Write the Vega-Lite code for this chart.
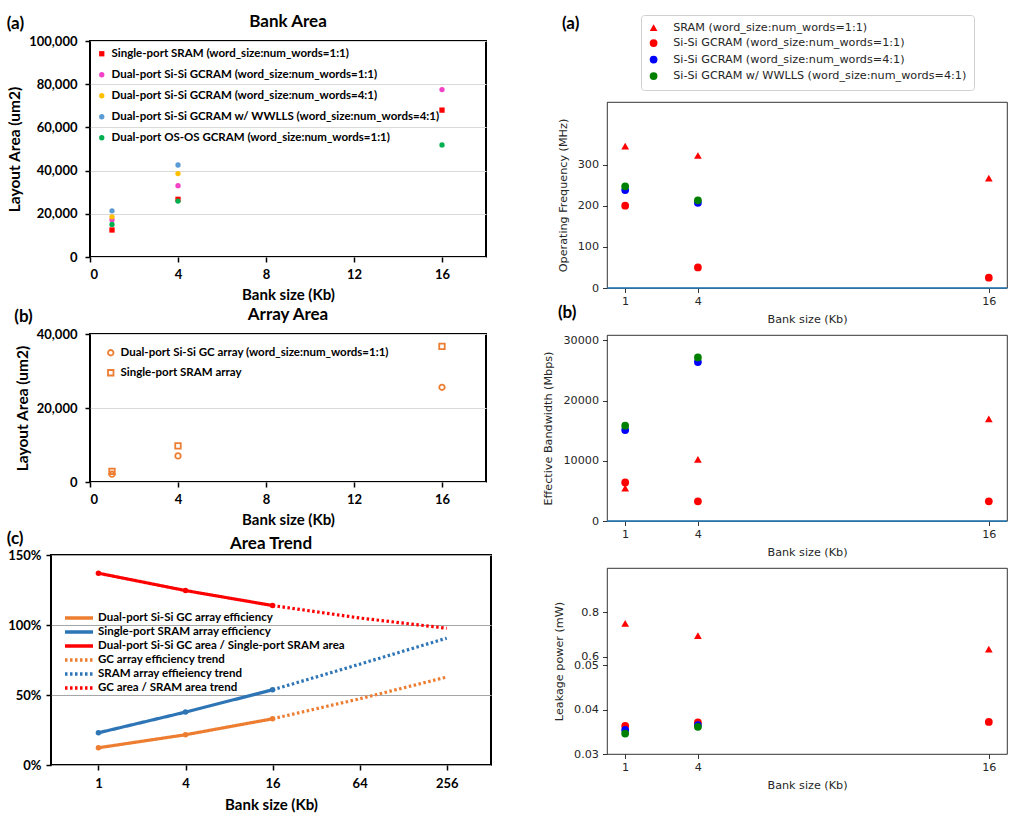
{
  "$schema": "https://vega.github.io/schema/vega-lite/v6.json",
  "background": "white",
  "padding": {"left": 6, "top": 12, "right": 0, "bottom": 0},
  "datasets": {
    "bank": [
      {"kb": 1, "v": 12500, "s": "Single-port SRAM  (word_size:num_words=1:1)"},
      {"kb": 4, "v": 26700, "s": "Single-port SRAM  (word_size:num_words=1:1)"},
      {"kb": 16, "v": 68000, "s": "Single-port SRAM  (word_size:num_words=1:1)"},
      {"kb": 1, "v": 17300, "s": "Dual-port Si-Si GCRAM (word_size:num_words=1:1)"},
      {"kb": 4, "v": 33000, "s": "Dual-port Si-Si GCRAM (word_size:num_words=1:1)"},
      {"kb": 16, "v": 77500, "s": "Dual-port Si-Si GCRAM (word_size:num_words=1:1)"},
      {"kb": 1, "v": 18600, "s": "Dual-port Si-Si GCRAM (word_size:num_words=4:1)"},
      {"kb": 4, "v": 38600, "s": "Dual-port Si-Si GCRAM (word_size:num_words=4:1)"},
      {"kb": 1, "v": 21400, "s": "Dual-port Si-Si GCRAM w/ WWLLS (word_size:num_words=4:1)"},
      {"kb": 4, "v": 42600, "s": "Dual-port Si-Si GCRAM w/ WWLLS (word_size:num_words=4:1)"},
      {"kb": 1, "v": 15100, "s": "Dual-port OS-OS GCRAM (word_size:num_words=1:1)"},
      {"kb": 4, "v": 25900, "s": "Dual-port OS-OS GCRAM (word_size:num_words=1:1)"},
      {"kb": 16, "v": 51900, "s": "Dual-port OS-OS GCRAM (word_size:num_words=1:1)"}
    ],
    "array": [
      {"kb": 1, "v": 2100, "s": "Dual-port Si-Si GC array (word_size:num_words=1:1)"},
      {"kb": 4, "v": 7050, "s": "Dual-port Si-Si GC array (word_size:num_words=1:1)"},
      {"kb": 16, "v": 25600, "s": "Dual-port Si-Si GC array (word_size:num_words=1:1)"},
      {"kb": 1, "v": 2900, "s": "Single-port SRAM array"},
      {"kb": 4, "v": 9770, "s": "Single-port SRAM array"},
      {"kb": 16, "v": 36640, "s": "Single-port SRAM array"}
    ],
    "trend": [
      {"kb": 1, "v": 0.123, "k": "solid", "s": "Dual-port Si-Si GC array efficiency"},
      {"kb": 4, "v": 0.216, "k": "solid", "s": "Dual-port Si-Si GC array efficiency"},
      {"kb": 16, "v": 0.330, "k": "solid", "s": "Dual-port Si-Si GC array efficiency"},
      {"kb": 1, "v": 0.230, "k": "solid", "s": "Single-port SRAM array efficiency"},
      {"kb": 4, "v": 0.378, "k": "solid", "s": "Single-port SRAM array efficiency"},
      {"kb": 16, "v": 0.537, "k": "solid", "s": "Single-port SRAM array efficiency"},
      {"kb": 1, "v": 1.370, "k": "solid", "s": "Dual-port Si-Si GC area / Single-port SRAM area"},
      {"kb": 4, "v": 1.246, "k": "solid", "s": "Dual-port Si-Si GC area / Single-port SRAM area"},
      {"kb": 16, "v": 1.139, "k": "solid", "s": "Dual-port Si-Si GC area / Single-port SRAM area"},
      {"kb": 16, "v": 0.330, "k": "trend", "s": "GC array efficiency trend"},
      {"kb": 64, "v": 0.473, "k": "trend", "s": "GC array efficiency trend"},
      {"kb": 256, "v": 0.628, "k": "trend", "s": "GC array efficiency trend"},
      {"kb": 16, "v": 0.537, "k": "trend", "s": "SRAM array effieiency trend"},
      {"kb": 64, "v": 0.720, "k": "trend", "s": "SRAM array effieiency trend"},
      {"kb": 256, "v": 0.906, "k": "trend", "s": "SRAM array effieiency trend"},
      {"kb": 16, "v": 1.139, "k": "trend", "s": "GC area / SRAM area trend"},
      {"kb": 64, "v": 1.050, "k": "trend", "s": "GC area / SRAM area trend"},
      {"kb": 256, "v": 0.977, "k": "trend", "s": "GC area / SRAM area trend"}
    ],
    "freq": [
      {"kb": 1, "v": 345, "s": "SRAM (word_size:num_words=1:1)"},
      {"kb": 4, "v": 322, "s": "SRAM (word_size:num_words=1:1)"},
      {"kb": 16, "v": 267, "s": "SRAM (word_size:num_words=1:1)"},
      {"kb": 1, "v": 200, "s": "Si-Si GCRAM (word_size:num_words=1:1)"},
      {"kb": 4, "v": 50, "s": "Si-Si GCRAM (word_size:num_words=1:1)"},
      {"kb": 16, "v": 25, "s": "Si-Si GCRAM (word_size:num_words=1:1)"},
      {"kb": 1, "v": 238, "s": "Si-Si GCRAM (word_size:num_words=4:1)"},
      {"kb": 4, "v": 207, "s": "Si-Si GCRAM (word_size:num_words=4:1)"},
      {"kb": 1, "v": 247, "s": "Si-Si GCRAM w/ WWLLS (word_size:num_words=4:1)"},
      {"kb": 4, "v": 213, "s": "Si-Si GCRAM w/ WWLLS (word_size:num_words=4:1)"}
    ],
    "bw": [
      {"kb": 1, "v": 5450, "s": "SRAM (word_size:num_words=1:1)"},
      {"kb": 4, "v": 10230, "s": "SRAM (word_size:num_words=1:1)"},
      {"kb": 16, "v": 16950, "s": "SRAM (word_size:num_words=1:1)"},
      {"kb": 1, "v": 6400, "s": "Si-Si GCRAM (word_size:num_words=1:1)"},
      {"kb": 4, "v": 3280, "s": "Si-Si GCRAM (word_size:num_words=1:1)"},
      {"kb": 16, "v": 3280, "s": "Si-Si GCRAM (word_size:num_words=1:1)"},
      {"kb": 1, "v": 15110, "s": "Si-Si GCRAM (word_size:num_words=4:1)"},
      {"kb": 4, "v": 26400, "s": "Si-Si GCRAM (word_size:num_words=4:1)"},
      {"kb": 1, "v": 15830, "s": "Si-Si GCRAM w/ WWLLS (word_size:num_words=4:1)"},
      {"kb": 4, "v": 27170, "s": "Si-Si GCRAM w/ WWLLS (word_size:num_words=4:1)"}
    ],
    "leak": [
      {"kb": 1, "v": 0.750, "s": "SRAM (word_size:num_words=1:1)"},
      {"kb": 4, "v": 0.694, "s": "SRAM (word_size:num_words=1:1)"},
      {"kb": 16, "v": 0.633, "s": "SRAM (word_size:num_words=1:1)"},
      {"kb": 1, "v": 0.0363, "s": "Si-Si GCRAM (word_size:num_words=1:1)"},
      {"kb": 4, "v": 0.0371, "s": "Si-Si GCRAM (word_size:num_words=1:1)"},
      {"kb": 16, "v": 0.0372, "s": "Si-Si GCRAM (word_size:num_words=1:1)"},
      {"kb": 1, "v": 0.0354, "s": "Si-Si GCRAM (word_size:num_words=4:1)"},
      {"kb": 4, "v": 0.0365, "s": "Si-Si GCRAM (word_size:num_words=4:1)"},
      {"kb": 1, "v": 0.0346, "s": "Si-Si GCRAM w/ WWLLS (word_size:num_words=4:1)"},
      {"kb": 4, "v": 0.0361, "s": "Si-Si GCRAM w/ WWLLS (word_size:num_words=4:1)"}
    ]
  },
  "resolve": {
    "scale": {"color": "independent", "shape": "independent", "strokeDash": "independent"},
    "legend": {"color": "independent", "shape": "independent", "strokeDash": "independent"}
  },
  "spacing": 16,
  "hconcat": [
    {
      "spacing": 2,
      "center": true,
      "resolve": {
        "scale": {"color": "independent", "shape": "independent", "strokeDash": "independent"},
        "legend": {"color": "independent", "shape": "independent", "strokeDash": "independent"}
      },
      "vconcat": [
        {
          "title": {"text": "(a)", "anchor": "start", "frame": "bounds", "offset": -21, "font": "Lato", "fontSize": 17, "fontWeight": "bold", "color": "black"},
          "vconcat": [
            {
              "width": 396,
              "height": 216,
              "view": {"stroke": "black", "strokeWidth": 2},
              "title": {"text": "Bank Area", "font": "Lato", "fontSize": 17, "fontWeight": "bold", "color": "black", "offset": 4},
              "data": {"name": "bank"},
              "mark": {"type": "point", "filled": true, "size": 28, "opacity": 1},
              "encoding": {
                "x": {"field": "kb", "type": "quantitative", "scale": {"domain": [0, 18], "nice": false},
                  "axis": {"values": [0, 4, 8, 12, 16], "title": "Bank size (Kb)", "grid": false, "domain": false, "tickColor": "black", "tickWidth": 1.5, "tickSize": 5, "labelFont": "Lato", "labelFontSize": 13, "labelFontWeight": "bold", "labelColor": "black", "labelPadding": 6, "titleFont": "Lato", "titleFontSize": 15, "titleFontWeight": "bold", "titleColor": "black", "titlePadding": 6}},
                "y": {"field": "v", "type": "quantitative", "scale": {"domain": [0, 100000], "nice": false},
                  "axis": {"values": [0, 20000, 40000, 60000, 80000, 100000], "format": ",.0f", "title": "Layout Area (um2)", "grid": true, "gridColor": "#d9d9d9", "domain": false, "tickColor": "black", "tickWidth": 1.5, "tickSize": 5, "labelFont": "Lato", "labelFontSize": 13, "labelFontWeight": "bold", "labelColor": "black", "labelPadding": 8, "titleFont": "Lato", "titleFontSize": 15.5, "titleFontWeight": "bold", "titleColor": "black", "titlePadding": 6}},
                "color": {"field": "s", "type": "nominal", "sort": null,
                  "scale": {"domain": ["Single-port SRAM  (word_size:num_words=1:1)", "Dual-port Si-Si GCRAM (word_size:num_words=1:1)", "Dual-port Si-Si GCRAM (word_size:num_words=4:1)", "Dual-port Si-Si GCRAM w/ WWLLS (word_size:num_words=4:1)", "Dual-port OS-OS GCRAM (word_size:num_words=1:1)"],
                    "range": ["#ff0000", "#f442c8", "#ffc000", "#5b9bd5", "#00b050"]},
                  "legend": {"orient": "none", "legendX": 6, "legendY": 7, "title": null, "labelFont": "Lato", "labelFontSize": 11.5, "labelFontWeight": "bold", "labelColor": "black", "labelLimit": 0, "symbolSize": 28, "rowPadding": 8, "labelOffset": 4}},
                "shape": {"field": "s", "type": "nominal", "sort": null,
                  "scale": {"domain": ["Single-port SRAM  (word_size:num_words=1:1)", "Dual-port Si-Si GCRAM (word_size:num_words=1:1)", "Dual-port Si-Si GCRAM (word_size:num_words=4:1)", "Dual-port Si-Si GCRAM w/ WWLLS (word_size:num_words=4:1)", "Dual-port OS-OS GCRAM (word_size:num_words=1:1)"],
                    "range": ["square", "circle", "circle", "circle", "circle"]},
                  "legend": {"orient": "none", "legendX": 6, "legendY": 7, "title": null, "labelFont": "Lato", "labelFontSize": 11.5, "labelFontWeight": "bold", "labelColor": "black", "labelLimit": 0, "symbolSize": 28, "rowPadding": 8, "labelOffset": 4}}
              }
            }
          ]
        },
        {
          "title": {"text": "(b)", "anchor": "start", "frame": "bounds", "offset": -21, "font": "Lato", "fontSize": 17, "fontWeight": "bold", "color": "black"},
          "vconcat": [
            {
              "width": 396,
              "height": 148,
              "view": {"stroke": "black", "strokeWidth": 2},
              "title": {"text": "Array Area", "font": "Lato", "fontSize": 17, "fontWeight": "bold", "color": "black", "offset": 4},
              "data": {"name": "array"},
              "mark": {"type": "point", "filled": false, "size": 30, "strokeWidth": 1.8, "opacity": 1},
              "encoding": {
                "x": {"field": "kb", "type": "quantitative", "scale": {"domain": [0, 18], "nice": false},
                  "axis": {"values": [0, 4, 8, 12, 16], "title": "Bank size (Kb)", "grid": false, "domain": false, "tickColor": "black", "tickWidth": 1.5, "tickSize": 5, "labelFont": "Lato", "labelFontSize": 13, "labelFontWeight": "bold", "labelColor": "black", "labelPadding": 6, "titleFont": "Lato", "titleFontSize": 15, "titleFontWeight": "bold", "titleColor": "black", "titlePadding": 6}},
                "y": {"field": "v", "type": "quantitative", "scale": {"domain": [0, 40000], "nice": false},
                  "axis": {"values": [0, 20000, 40000], "format": ",.0f", "title": "Layout Area (um2)", "grid": true, "gridColor": "#d9d9d9", "domain": false, "tickColor": "black", "tickWidth": 1.5, "tickSize": 5, "labelFont": "Lato", "labelFontSize": 13, "labelFontWeight": "bold", "labelColor": "black", "labelPadding": 8, "titleFont": "Lato", "titleFontSize": 15.5, "titleFontWeight": "bold", "titleColor": "black", "titlePadding": 6}},
                "color": {"value": "#ed7d31"},
                "shape": {"field": "s", "type": "nominal", "sort": null,
                  "scale": {"domain": ["Dual-port Si-Si GC array (word_size:num_words=1:1)", "Single-port SRAM array"], "range": ["circle", "square"]},
                  "legend": {"orient": "none", "legendX": 15, "legendY": 13, "title": null, "labelFont": "Lato", "labelFontSize": 11.5, "labelFontWeight": "bold", "labelColor": "black", "labelLimit": 0, "symbolSize": 30, "symbolStrokeColor": "#ed7d31", "symbolStrokeWidth": 1.8, "rowPadding": 6, "labelOffset": 4}}
              }
            }
          ]
        },
        {
          "title": {"text": "(c)", "anchor": "start", "frame": "bounds", "offset": -14, "font": "Lato", "fontSize": 17, "fontWeight": "bold", "color": "black"},
          "spacing": 0,
          "hconcat": [
            {
              "width": 440,
              "height": 210,
              "view": {"stroke": "black", "strokeWidth": 2},
              "title": {"text": "Area Trend", "font": "Lato", "fontSize": 17, "fontWeight": "bold", "color": "black", "offset": -4},
              "data": {"name": "trend"},
              "layer": [
                {
                  "mark": {"type": "line", "strokeWidth": 3.2},
                  "encoding": {
                    "x": {"field": "kb", "type": "quantitative", "scale": {"type": "log", "base": 2, "domain": [0.47, 518], "nice": false},
                      "axis": {"values": [1, 4, 16, 64, 256], "format": "d", "title": "Bank size (Kb)", "grid": false, "domain": false, "tickColor": "black", "tickWidth": 1.5, "tickSize": 5, "labelFont": "Lato", "labelFontSize": 13, "labelFontWeight": "bold", "labelColor": "black", "labelPadding": 7, "titleFont": "Lato", "titleFontSize": 15, "titleFontWeight": "bold", "titleColor": "black", "titlePadding": 7}},
                    "y": {"field": "v", "type": "quantitative", "scale": {"domain": [0, 1.5], "nice": false},
                      "axis": {"values": [0, 0.5, 1, 1.5], "format": ".0%", "title": null, "grid": true, "gridColor": "#a6a6a6", "domain": false, "tickColor": "black", "tickWidth": 1.5, "tickSize": 5, "labelFont": "Lato", "labelFontSize": 13, "labelFontWeight": "bold", "labelColor": "black", "labelPadding": 5}},
                    "color": {"field": "s", "type": "nominal", "sort": null,
                      "scale": {"domain": ["Dual-port Si-Si GC array efficiency", "Single-port SRAM array efficiency", "Dual-port Si-Si GC area / Single-port SRAM area", "GC array efficiency trend", "SRAM array effieiency trend", "GC area / SRAM area trend"],
                        "range": ["#ed7d31", "#2e75b6", "#ff0000", "#ed7d31", "#2e75b6", "#ff0000"]},
                      "legend": {"orient": "none", "legendX": 21, "legendY": 56, "title": null, "symbolType": "M-2.8,0H2.8", "symbolSize": 100, "symbolStrokeWidth": 3.5, "labelFont": "Lato", "labelFontSize": 11.5, "labelFontWeight": "bold", "labelColor": "black", "labelLimit": 0, "rowPadding": 0, "labelOffset": 12}},
                    "strokeDash": {"field": "s", "type": "nominal", "sort": null,
                      "scale": {"domain": ["Dual-port Si-Si GC array efficiency", "Single-port SRAM array efficiency", "Dual-port Si-Si GC area / Single-port SRAM area", "GC array efficiency trend", "SRAM array effieiency trend", "GC area / SRAM area trend"],
                        "range": [[1, 0], [1, 0], [1, 0], [2.5, 2.5], [2.5, 2.5], [2.5, 2.5]]},
                      "legend": {"orient": "none", "legendX": 21, "legendY": 56, "title": null, "symbolType": "M-2.8,0H2.8", "symbolSize": 100, "symbolStrokeWidth": 3.5, "labelFont": "Lato", "labelFontSize": 11.5, "labelFontWeight": "bold", "labelColor": "black", "labelLimit": 0, "rowPadding": 0, "labelOffset": 12}}
                  }
                },
                {
                  "transform": [{"filter": "datum.k == 'solid'"}],
                  "mark": {"type": "point", "filled": true, "size": 30, "opacity": 1},
                  "encoding": {
                    "x": {"field": "kb", "type": "quantitative"},
                    "y": {"field": "v", "type": "quantitative"},
                    "color": {"field": "s", "type": "nominal", "sort": null,
                      "legend": {"orient": "none", "legendX": 21, "legendY": 56, "title": null, "symbolType": "M-2.8,0H2.8", "symbolSize": 100, "symbolStrokeWidth": 3.5, "labelFont": "Lato", "labelFontSize": 11.5, "labelFontWeight": "bold", "labelColor": "black", "labelLimit": 0, "rowPadding": 0, "labelOffset": 12}}
                  }
                }
              ]
            },
            {
              "width": 34,
              "height": 1,
              "view": {"stroke": null},
              "data": {"values": [{}]},
              "mark": {"type": "point", "opacity": 0}
            }
          ]
        }
      ]
    },
    {
      "spacing": 47,
      "bounds": "flush",
      "resolve": {
        "scale": {"color": "independent", "shape": "independent"},
        "legend": {"color": "independent", "shape": "independent"}
      },
      "vconcat": [
        {
          "width": 400,
          "height": 14,
          "view": {"stroke": null},
          "title": {"text": "(a)", "anchor": "start", "frame": "group", "dx": -45, "offset": -18, "font": "Lato", "fontSize": 17, "fontWeight": "bold", "color": "black"},
          "data": {"name": "freq"},
          "mark": {"type": "point", "filled": true, "size": 60, "opacity": 0},
          "encoding": {
            "color": {"field": "s", "type": "nominal", "sort": null,
              "scale": {"domain": ["SRAM (word_size:num_words=1:1)", "Si-Si GCRAM (word_size:num_words=1:1)", "Si-Si GCRAM (word_size:num_words=4:1)", "Si-Si GCRAM w/ WWLLS (word_size:num_words=4:1)"], "range": ["#ff0000", "#ff0000", "#0000ff", "#008000"]},
              "legend": {"orient": "none", "legendX": 34, "legendY": -26, "title": null, "labelFont": "DejaVu Sans", "labelFontSize": 11.2, "labelColor": "#262626", "labelLimit": 0, "symbolSize": 60, "symbolOpacity": 1, "rowPadding": 1.5, "padding": 7, "strokeColor": "#d0d0d0", "fillColor": "white", "cornerRadius": 3, "labelOffset": 14}},
            "shape": {"field": "s", "type": "nominal", "sort": null,
              "scale": {"domain": ["SRAM (word_size:num_words=1:1)", "Si-Si GCRAM (word_size:num_words=1:1)", "Si-Si GCRAM (word_size:num_words=4:1)", "Si-Si GCRAM w/ WWLLS (word_size:num_words=4:1)"], "range": ["triangle-up", "circle", "circle", "circle"]},
              "legend": {"orient": "none", "legendX": 34, "legendY": -26, "title": null, "labelFont": "DejaVu Sans", "labelFontSize": 11.2, "labelColor": "#262626", "labelLimit": 0, "symbolSize": 60, "symbolOpacity": 1, "rowPadding": 1.5, "padding": 7, "strokeColor": "#d0d0d0", "fillColor": "white", "cornerRadius": 3, "labelOffset": 14}}
          }
        },
        {
          "width": 400,
          "height": 186,
          "view": {"stroke": "black", "strokeWidth": 0.8},
          "layer": [
            {
              "data": {"name": "freq"},
              "mark": {"type": "point", "filled": true, "size": 60, "opacity": 1},
              "encoding": {
                "x": {"field": "kb", "type": "quantitative", "scale": {"domain": [0.25, 16.75], "nice": false, "zero": false},
                  "axis": {"values": [1, 4, 16], "title": "Bank size (Kb)", "grid": false, "domain": false, "tickColor": "black", "tickWidth": 0.8, "tickSize": 4.5, "labelFont": "DejaVu Sans", "labelFontSize": 11.2, "labelColor": "#262626", "labelPadding": 3, "titleFont": "DejaVu Sans", "titleFontSize": 11.2, "titleFontWeight": "normal", "titleColor": "#262626", "titlePadding": 7}},
                "y": {"field": "v", "type": "quantitative", "scale": {"domain": [0, 452], "nice": false},
                  "axis": {"values": [0, 100, 200, 300], "title": "Operating Frequency (MHz)", "grid": false, "domain": false, "tickColor": "black", "tickWidth": 0.8, "tickSize": 4.5, "labelFont": "DejaVu Sans", "labelFontSize": 11.2, "labelColor": "#262626", "labelPadding": 4, "titleFont": "DejaVu Sans", "titleFontSize": 11.2, "titleFontWeight": "normal", "titleColor": "#262626", "titlePadding": 9}},
                "color": {"field": "s", "type": "nominal", "sort": null,
                  "scale": {"domain": ["SRAM (word_size:num_words=1:1)", "Si-Si GCRAM (word_size:num_words=1:1)", "Si-Si GCRAM (word_size:num_words=4:1)", "Si-Si GCRAM w/ WWLLS (word_size:num_words=4:1)"], "range": ["#ff0000", "#ff0000", "#0000ff", "#008000"]},
                  "legend": null},
                "shape": {"field": "s", "type": "nominal", "sort": null,
                  "scale": {"domain": ["SRAM (word_size:num_words=1:1)", "Si-Si GCRAM (word_size:num_words=1:1)", "Si-Si GCRAM (word_size:num_words=4:1)", "Si-Si GCRAM w/ WWLLS (word_size:num_words=4:1)"], "range": ["triangle-up", "circle", "circle", "circle"]},
                  "legend": null}
              }
            },
            {
              "data": {"values": [{}]},
              "mark": {"type": "rule", "color": "#1f77b4", "strokeWidth": 1.5},
              "encoding": {"y": {"datum": 0}}
            }
          ]
        },
        {
          "width": 400,
          "height": 186,
          "view": {"stroke": "black", "strokeWidth": 0.8},
          "title": {"text": "(b)", "anchor": "start", "frame": "bounds", "offset": 12, "dx": 15, "font": "Lato", "fontSize": 17, "fontWeight": "bold", "color": "black"},
          "layer": [
            {
              "data": {"name": "bw"},
              "mark": {"type": "point", "filled": true, "size": 60, "opacity": 1},
              "encoding": {
                "x": {"field": "kb", "type": "quantitative", "scale": {"domain": [0.25, 16.75], "nice": false, "zero": false},
                  "axis": {"values": [1, 4, 16], "title": "Bank size (Kb)", "grid": false, "domain": false, "tickColor": "black", "tickWidth": 0.8, "tickSize": 4.5, "labelFont": "DejaVu Sans", "labelFontSize": 11.2, "labelColor": "#262626", "labelPadding": 3, "titleFont": "DejaVu Sans", "titleFontSize": 11.2, "titleFontWeight": "normal", "titleColor": "#262626", "titlePadding": 7}},
                "y": {"field": "v", "type": "quantitative", "scale": {"domain": [0, 30900], "nice": false},
                  "axis": {"values": [0, 10000, 20000, 30000], "format": "d", "title": "Effective Bandwidth (Mbps)", "grid": false, "domain": false, "tickColor": "black", "tickWidth": 0.8, "tickSize": 4.5, "labelFont": "DejaVu Sans", "labelFontSize": 11.2, "labelColor": "#262626", "labelPadding": 4, "titleFont": "DejaVu Sans", "titleFontSize": 11.2, "titleFontWeight": "normal", "titleColor": "#262626", "titlePadding": 9}},
                "color": {"field": "s", "type": "nominal", "sort": null,
                  "scale": {"domain": ["SRAM (word_size:num_words=1:1)", "Si-Si GCRAM (word_size:num_words=1:1)", "Si-Si GCRAM (word_size:num_words=4:1)", "Si-Si GCRAM w/ WWLLS (word_size:num_words=4:1)"], "range": ["#ff0000", "#ff0000", "#0000ff", "#008000"]},
                  "legend": null},
                "shape": {"field": "s", "type": "nominal", "sort": null,
                  "scale": {"domain": ["SRAM (word_size:num_words=1:1)", "Si-Si GCRAM (word_size:num_words=1:1)", "Si-Si GCRAM (word_size:num_words=4:1)", "Si-Si GCRAM w/ WWLLS (word_size:num_words=4:1)"], "range": ["triangle-up", "circle", "circle", "circle"]},
                  "legend": null}
              }
            },
            {
              "data": {"values": [{}]},
              "mark": {"type": "rule", "color": "#1f77b4", "strokeWidth": 1.5},
              "encoding": {"y": {"datum": 0}}
            }
          ]
        },
        {
          "width": 400,
          "height": 186,
          "view": {"stroke": "black", "strokeWidth": 0.8},
          "data": {"name": "leak"},
          "mark": {"type": "point", "filled": true, "size": 60, "opacity": 1},
          "encoding": {
            "x": {"field": "kb", "type": "quantitative", "scale": {"domain": [0.25, 16.75], "nice": false, "zero": false},
              "axis": {"values": [1, 4, 16], "title": "Bank size (Kb)", "grid": false, "domain": false, "tickColor": "black", "tickWidth": 0.8, "tickSize": 4.5, "labelFont": "DejaVu Sans", "labelFontSize": 11.2, "labelColor": "#262626", "labelPadding": 3, "titleFont": "DejaVu Sans", "titleFontSize": 11.2, "titleFontWeight": "normal", "titleColor": "#262626", "titlePadding": 7}},
            "y": {"field": "v", "type": "quantitative", "scale": {"domain": [0.03, 0.05, 0.6, 1.0], "range": [186, 97, 88.5, 0], "nice": false, "zero": false},
              "axis": {"values": [0.03, 0.04, 0.05, 0.6, 0.8], "format": "~g", "labelOverlap": false, "title": "Leakage power (mW)", "grid": false, "domain": false, "tickColor": "black", "tickWidth": 0.8, "tickSize": 4.5, "labelFont": "DejaVu Sans", "labelFontSize": 11.2, "labelColor": "#262626", "labelPadding": 4, "titleFont": "DejaVu Sans", "titleFontSize": 11.2, "titleFontWeight": "normal", "titleColor": "#262626", "titlePadding": 9}},
            "color": {"field": "s", "type": "nominal", "sort": null,
              "scale": {"domain": ["SRAM (word_size:num_words=1:1)", "Si-Si GCRAM (word_size:num_words=1:1)", "Si-Si GCRAM (word_size:num_words=4:1)", "Si-Si GCRAM w/ WWLLS (word_size:num_words=4:1)"], "range": ["#ff0000", "#ff0000", "#0000ff", "#008000"]},
              "legend": null},
            "shape": {"field": "s", "type": "nominal", "sort": null,
              "scale": {"domain": ["SRAM (word_size:num_words=1:1)", "Si-Si GCRAM (word_size:num_words=1:1)", "Si-Si GCRAM (word_size:num_words=4:1)", "Si-Si GCRAM w/ WWLLS (word_size:num_words=4:1)"], "range": ["triangle-up", "circle", "circle", "circle"]},
              "legend": null}
          }
        }
      ]
    }
  ],
  "config": {"font": "Lato", "legend": {"symbolOpacity": 1}}
}
